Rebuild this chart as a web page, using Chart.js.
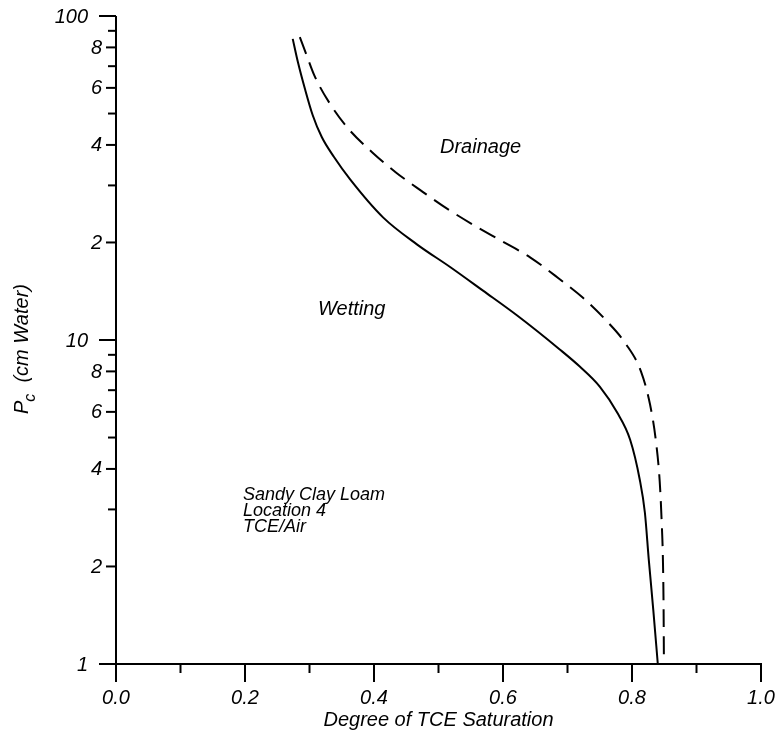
<!DOCTYPE html>
<html>
<head>
<meta charset="utf-8">
<script src="https://cdn.jsdelivr.net/npm/chart.js@4.4.1/dist/chart.umd.min.js"></script>
<style>
  html, body { margin: 0; padding: 0; background: #fff; }
  #capChart { display: block; }
</style>
</head>
<body>
<canvas id="capChart" width="780" height="743"></canvas>
<script>
// Grafico curva de presion capilar (escala log)
var wettingSat = [0.274, 0.282, 0.293, 0.305, 0.319, 0.338, 0.363, 0.414, 0.467, 0.518, 0.569, 0.622, 0.688, 0.719, 0.750, 0.777, 0.797, 0.812, 0.820, 0.826, 0.833, 0.840];
var wettingPc  = [85, 72.1, 59.5, 49.4, 42.3, 36.7, 31.3, 23.9, 19.7, 16.8, 14.2, 11.9, 9.35, 8.28, 7.18, 5.97, 4.93, 3.71, 2.93, 2.10, 1.47, 1.0];

var drainageSat = [0.285, 0.296, 0.308, 0.333, 0.361, 0.397, 0.434, 0.474, 0.515, 0.555, 0.598, 0.642, 0.688, 0.724, 0.758, 0.791, 0.814, 0.828, 0.837, 0.843, 0.846, 0.848, 0.849, 0.8495];
var drainagePc  = [86.1, 75.2, 65.2, 53.1, 44.7, 38.0, 32.9, 28.8, 25.3, 22.6, 20.2, 18.0, 15.4, 13.5, 11.6, 9.69, 7.99, 6.32, 4.89, 3.65, 2.75, 2.07, 1.47, 1.0];

var satTicks = [0, 0.1, 0.2, 0.3, 0.4, 0.5, 0.6, 0.7, 0.8, 0.9, 1.0];
var satTickLabels = ['0.0', '', '0.2', '', '0.4', '', '0.6', '', '0.8', '', '1.0'];

var pcTicks = [1, 2, 3, 4, 5, 6, 7, 8, 9, 10, 20, 30, 40, 50, 60, 70, 80, 90, 100];
var pcTickLabels = ['1', '2', '', '4', '', '6', '', '8', '', '10', '2', '', '4', '', '6', '', '8', '', '100'];

var notes = [
    { text: 'Drainage', x: 440, y: 153, size: 20 },
    { text: 'Wetting', x: 318, y: 315, size: 20 },
    { text: 'Sandy Clay Loam', x: 243, y: 500, size: 18 },
    { text: 'Location 4', x: 243, y: 516, size: 18 },
    { text: 'TCE/Air', x: 243, y: 532, size: 18 }
];

function toPoints(xs, ys) {
    return xs.map(function (x, i) { return { x: x, y: ys[i] }; });
}

function italic(size) {
    return 'italic ' + size + 'px "Liberation Sans", Arial, sans-serif';
}

var axesPlugin = {
    id: 'axesPlugin',
    beforeDatasetsDraw: function (chart) {
        var ctx = chart.ctx;
        var xs = chart.scales.x;
        var ys = chart.scales.y;
        var x0 = xs.getPixelForValue(0);
        var x1 = xs.getPixelForValue(1);
        var yB = ys.getPixelForValue(1);
        var yT = ys.getPixelForValue(100);

        ctx.save();
        ctx.strokeStyle = '#000';
        ctx.lineWidth = 2;
        ctx.lineCap = 'butt';

        ctx.beginPath();
        ctx.moveTo(x0, yT);
        ctx.lineTo(x0, yB);
        ctx.moveTo(x0, yB);
        ctx.lineTo(x1 + 1, yB);
        ctx.stroke();

        ctx.fillStyle = '#000';
        ctx.font = italic(20);

        // y ticks + labels
        ctx.textAlign = 'right';
        ctx.textBaseline = 'middle';
        pcTicks.forEach(function (v, i) {
            var py = ys.getPixelForValue(v);
            var decade = (v === 1 || v === 10 || v === 100);
            var len = decade ? 17 : (pcTickLabels[i] ? 10 : 8);
            ctx.beginPath();
            ctx.moveTo(x0 - len, py);
            ctx.lineTo(x0, py);
            ctx.stroke();
            if (pcTickLabels[i]) {
                ctx.fillText(pcTickLabels[i], decade ? x0 - 28 : x0 - 14, py + 1);
            }
        });

        // x ticks + labels
        ctx.textAlign = 'center';
        satTicks.forEach(function (v, i) {
            var px = xs.getPixelForValue(v);
            var len = satTickLabels[i] ? 18 : 9;
            ctx.beginPath();
            ctx.moveTo(px, yB);
            ctx.lineTo(px, yB + len);
            ctx.stroke();
            if (satTickLabels[i]) {
                ctx.fillText(satTickLabels[i], px, yB + 34);
            }
        });

        // axis titles
        ctx.fillText('Degree of TCE Saturation', (x0 + x1) / 2, yB + 56);

        ctx.save();
        ctx.translate(28, 414);
        ctx.rotate(-Math.PI / 2);
        ctx.textAlign = 'left';
        ctx.textBaseline = 'alphabetic';
        ctx.font = italic(20);
        ctx.fillText('P', 0, 0);
        var pw = ctx.measureText('P').width;
        ctx.font = italic(16);
        ctx.fillText('c', pw - 1, 7);
        var cw = ctx.measureText('c').width;
        ctx.font = italic(20);
        ctx.fillText('  (cm Water)', pw + cw - 1, 0);
        ctx.restore();

        // notes
        ctx.textAlign = 'left';
        ctx.textBaseline = 'alphabetic';
        notes.forEach(function (n) {
            ctx.font = italic(n.size);
            ctx.fillText(n.text, n.x, n.y);
        });
        ctx.restore();
    }
};

var ctx = document.getElementById('capChart').getContext('2d');

var capChart = new Chart(ctx, {
    type: 'scatter',
    data: {
        datasets: [{
            label: 'Wetting',
            data: toPoints(wettingSat, wettingPc),
            showLine: true,
            borderColor: '#000',
            borderWidth: 2,
            pointRadius: 0,
            cubicInterpolationMode: 'monotone',
            clip: false
        }, {
            label: 'Drainage',
            data: toPoints(drainageSat, drainagePc),
            showLine: true,
            borderColor: '#000',
            borderWidth: 2,
            borderDash: [18, 9],
            pointRadius: 0,
            cubicInterpolationMode: 'monotone',
            clip: false
        }]
    },
    options: {
        responsive: false,
        animation: false,
        layout: {
            padding: { top: 16, right: 19, left: 0, bottom: 0 }
        },
        scales: {
            x: {
                type: 'linear',
                min: 0,
                max: 1,
                grid: { display: false },
                border: { display: false },
                ticks: { display: false },
                afterFit: function (scale) { scale.height = 79; }
            },
            y: {
                type: 'logarithmic',
                min: 1,
                max: 100,
                grid: { display: false },
                border: { display: false },
                ticks: { display: false },
                afterFit: function (scale) { scale.width = 116; }
            }
        },
        plugins: {
            legend: { display: false },
            tooltip: { enabled: false }
        }
    },
    plugins: [axesPlugin]
});
</script>
</body>
</html>
